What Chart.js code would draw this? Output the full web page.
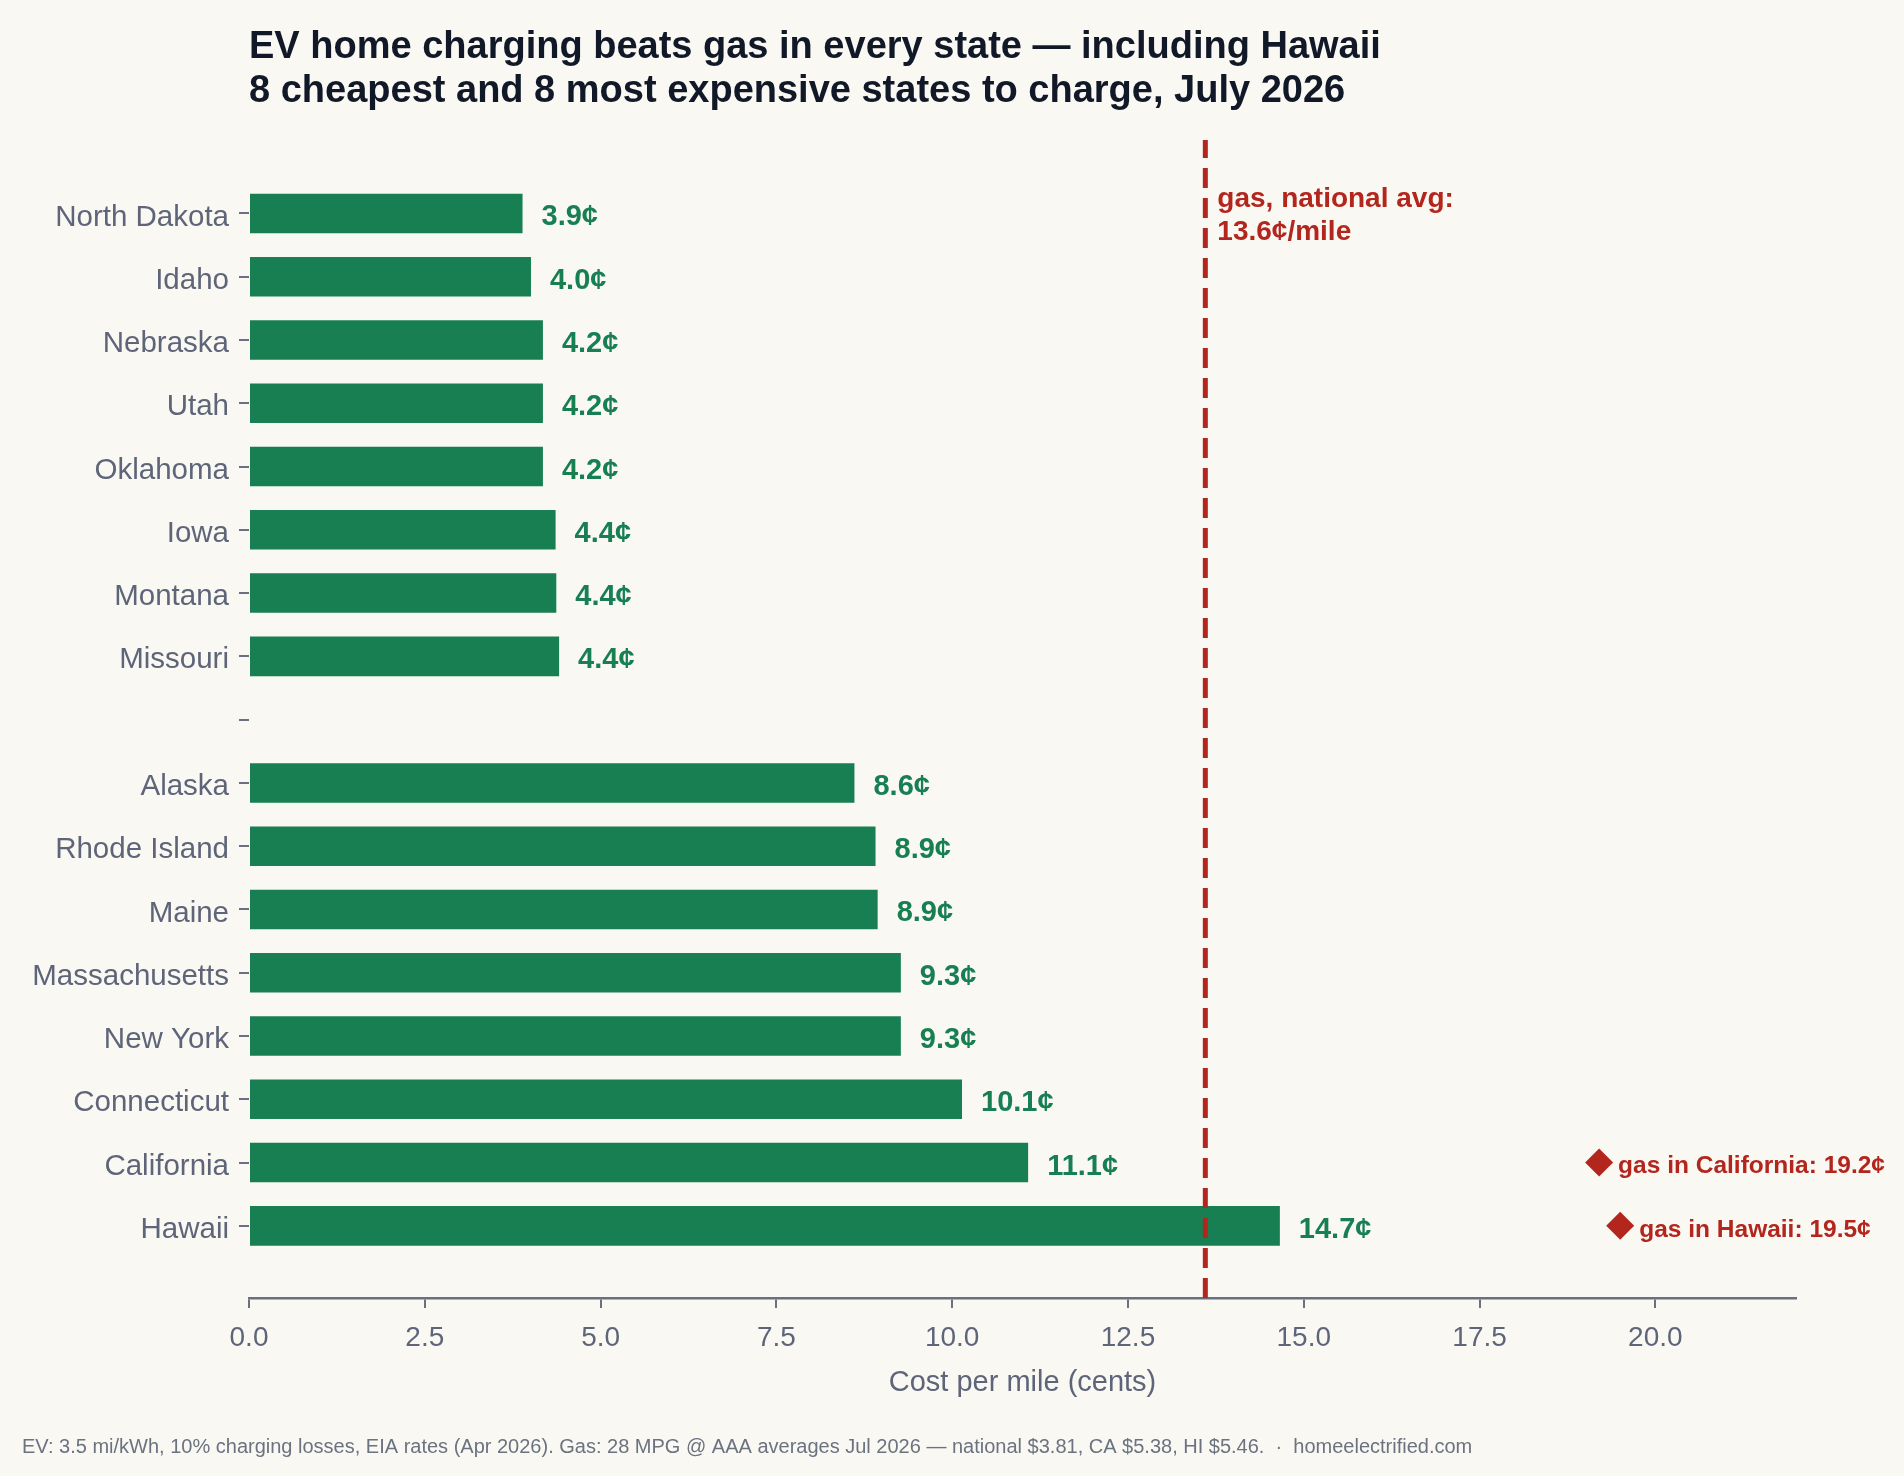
<!DOCTYPE html>
<html>
<head>
<meta charset="utf-8">
<title>EV home charging vs gas</title>
<script src="https://cdn.jsdelivr.net/npm/chart.js@4.4.1/dist/chart.umd.min.js"></script>
<style>
    html, body { margin: 0; padding: 0; background: #faf8f3; }
    #wrap { width: 1904px; height: 1476px; }
</style>
</head>
<body>
<div id="wrap"><canvas id="evChart" width="1904" height="1476"></canvas></div>
<script>
// Cost per mile, cents. Empty slot in the middle separates cheapest / priciest groups
const states = ['North Dakota', 'Idaho', 'Nebraska', 'Utah', 'Oklahoma', 'Iowa', 'Montana', 'Missouri', '',
                'Alaska', 'Rhode Island', 'Maine', 'Massachusetts', 'New York', 'Connecticut', 'California', 'Hawaii'];
const evCents = [3.89, 4.01, 4.18, 4.18, 4.18, 4.36, 4.37, 4.41, null,
                 8.61, 8.91, 8.94, 9.27, 9.27, 10.14, 11.08, 14.66];
const gasStates = ['California', 'Hawaii'];
const gasCents = [19.2, 19.5];
const gasNational = 13.6;
const xTicks = [0, 2.5, 5, 7.5, 10, 12.5, 15, 17.5, 20];

const GREEN = '#177f52';
const RED = '#b3261e';
const SLATE = '#5e6579';
const AXIS = '#6b7080';
const FONT = '"Liberation Sans", Arial, Helvetica, sans-serif';
const Y_MIN = -1.16, Y_MAX = 17.14;

const barPoints = evCents
    .map((v, i) => ({ x: v, y: i }))
    .filter(p => p.x !== null);

const gasPoints = gasCents.map((v, i) => ({ x: v, y: states.indexOf(gasStates[i]) }));

const overlay = {
    id: 'overlay',
    afterDatasetsDraw(chart) {
        const ctx = chart.ctx;
        ctx.save();

        // value labels next to each bar
        const barMeta = chart.getDatasetMeta(2);
        ctx.font = 'bold 29px ' + FONT;
        ctx.fillStyle = GREEN;
        ctx.textAlign = 'left';
        ctx.textBaseline = 'middle';
        barMeta.data.forEach((bar, i) => {
            ctx.fillText(barPoints[i].x.toFixed(1) + '\u00a2', bar.x + 19, bar.y + 4);
        });

        // gas labels beside the diamonds
        const gasMeta = chart.getDatasetMeta(1);
        ctx.font = 'bold 24.5px ' + FONT;
        ctx.fillStyle = RED;
        gasMeta.data.forEach((pt, i) => {
            ctx.fillText('gas in ' + gasStates[i] + ': ' + gasCents[i].toFixed(1) + '\u00a2', pt.x + 19, pt.y + 4);
        });

        // national average note by the dashed line
        const xN = chart.scales.x.getPixelForValue(gasNational);
        ctx.font = 'bold 28px ' + FONT;
        ctx.textBaseline = 'alphabetic';
        ctx.fillText('gas, national avg:', xN + 12, 207);
        ctx.fillText(gasNational.toFixed(1) + '\u00a2/mile', xN + 12, 240);

        // titles
        const left = chart.chartArea.left;
        ctx.fillStyle = '#111827';
        ctx.font = 'bold 38px ' + FONT;
        ctx.fillText('EV home charging beats gas in every state \u2014 including Hawaii', left, 58);
        ctx.fillText('8 cheapest and 8 most expensive states to charge, July 2026', left, 102);

        // footnote
        ctx.fillStyle = '#6b7280';
        ctx.font = '20px ' + FONT;
        ctx.fillText('EV: 3.5 mi/kWh, 10% charging losses, EIA rates (Apr 2026). Gas: 28 MPG @ AAA averages Jul 2026 \u2014 national $3.81, CA $5.38, HI $5.46.  \u00b7  homeelectrified.com', 22, 1453);

        ctx.restore();
    }
};

new Chart(document.getElementById('evChart'), {
    type: 'bar',
    data: {
        datasets: [
            {
                type: 'line',
                data: [{ x: gasNational, y: Y_MAX }, { x: gasNational, y: Y_MIN }],
                borderColor: RED,
                borderWidth: 5,
                borderDash: [20, 10],
                pointRadius: 0,
                order: 0
            },
            {
                type: 'scatter',
                data: gasPoints,
                pointStyle: 'rectRot',
                pointRadius: 14,
                backgroundColor: RED,
                borderWidth: 0,
                order: 1
            },
            {
                type: 'bar',
                indexAxis: 'y',
                data: barPoints,
                backgroundColor: GREEN,
                categoryPercentage: 1,
                barPercentage: 0.625,
                order: 2
            }
        ]
    },
    options: {
        responsive: false,
        animation: false,
        devicePixelRatio: 1,
        layout: { padding: { top: 140, right: 108, bottom: 0, left: 0 } },
        plugins: {
            legend: { display: false },
            tooltip: { enabled: false }
        },
        scales: {
            x: {
                type: 'linear',
                position: 'bottom',
                offset: false,
                min: 0,
                max: 22,
                afterBuildTicks: s => { s.ticks = xTicks.map(v => ({ value: v })); },
                afterFit: s => { s.height = 178; },
                ticks: {
                    callback: v => Number(v).toFixed(1),
                    color: SLATE,
                    font: { family: FONT, size: 28 },
                    padding: 13,
                    maxRotation: 0
                },
                grid: { offset: false, drawOnChartArea: false, drawTicks: true, tickLength: 10, color: AXIS, lineWidth: 2 },
                border: { display: true, color: AXIS, width: 2.5 },
                title: {
                    display: true,
                    text: 'Cost per mile (cents)',
                    color: SLATE,
                    font: { family: FONT, size: 29 },
                    padding: { top: 0, bottom: 76 }
                }
            },
            y: {
                type: 'linear',
                position: 'left',
                offset: false,
                reverse: true,
                min: Y_MIN,
                max: Y_MAX,
                afterBuildTicks: s => { s.ticks = states.map((name, i) => ({ value: i })); },
                afterFit: s => { s.width = 249; },
                ticks: {
                    callback: v => states[Math.round(v)] || '',
                    color: SLATE,
                    font: { family: FONT, size: 29.5 },
                    padding: 10,
                    labelOffset: 4,
                    autoSkip: false
                },
                grid: { offset: false, drawOnChartArea: false, drawTicks: true, tickLength: 10, color: AXIS, lineWidth: 2 },
                border: { display: false }
            }
        }
    },
    plugins: [overlay]
});
</script>
</body>
</html>
